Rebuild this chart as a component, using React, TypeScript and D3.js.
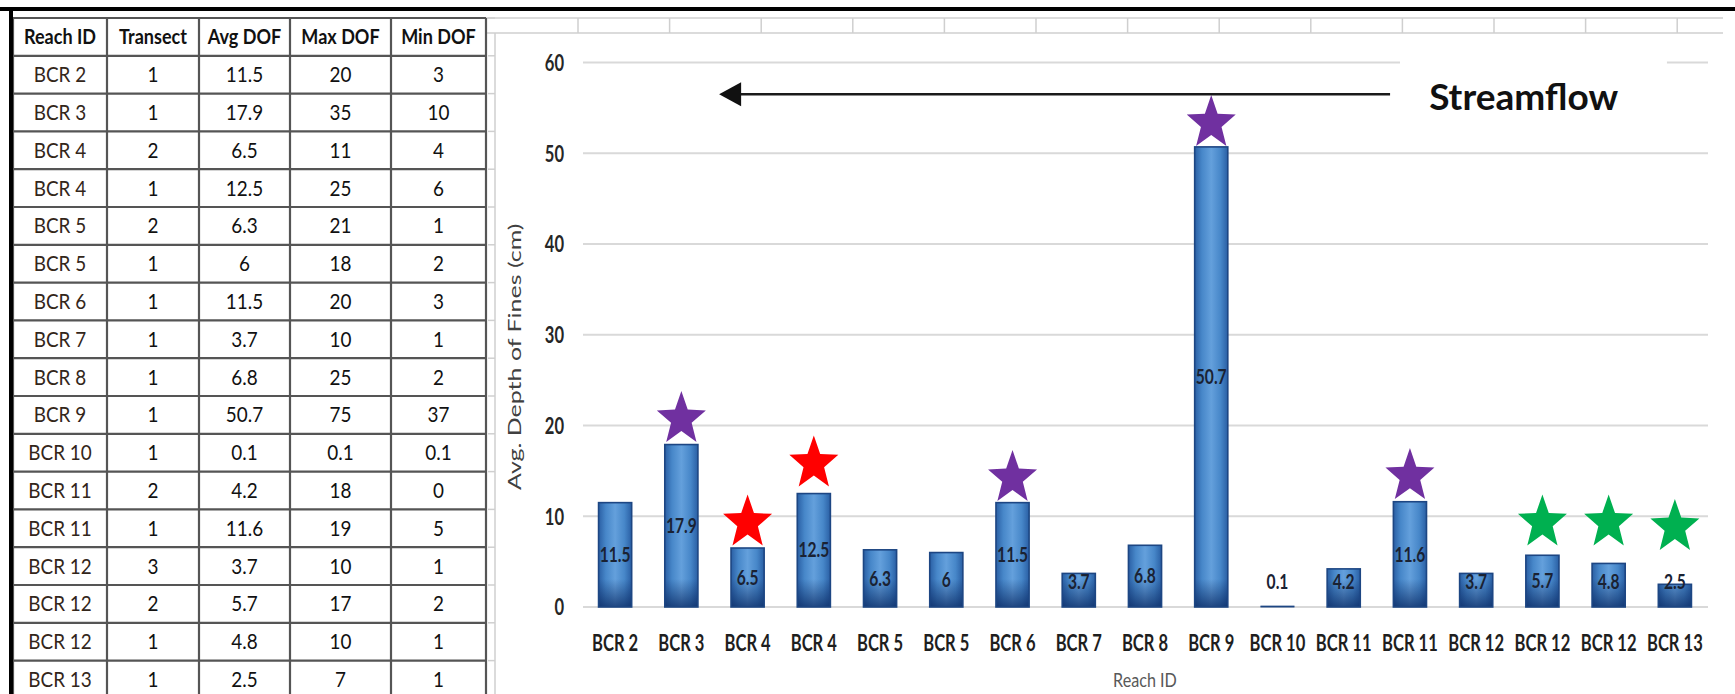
import React from 'react';
import * as d3 from 'd3';

// ---- data ----
const reachIds = ['BCR 2', 'BCR 3', 'BCR 4', 'BCR 4', 'BCR 5', 'BCR 5', 'BCR 6', 'BCR 7', 'BCR 8', 'BCR 9', 'BCR 10', 'BCR 11', 'BCR 11', 'BCR 12', 'BCR 12', 'BCR 12', 'BCR 13'];
const transects = [1, 1, 2, 1, 2, 1, 1, 1, 1, 1, 1, 2, 1, 3, 2, 1, 1];
const avgDof = [11.5, 17.9, 6.5, 12.5, 6.3, 6, 11.5, 3.7, 6.8, 50.7, 0.1, 4.2, 11.6, 3.7, 5.7, 4.8, 2.5];
const maxDof = [20, 35, 11, 25, 21, 18, 20, 10, 25, 75, 0.1, 18, 19, 10, 17, 10, 7];
const minDof = [3, 10, 4, 6, 1, 2, 3, 1, 2, 37, 0.1, 0, 5, 1, 2, 1, 1];
const tableHeaders = ['Reach ID', 'Transect', 'Avg DOF', 'Max DOF', 'Min DOF'];
const yTicks = [0, 10, 20, 30, 40, 50, 60];

// highlighted reaches: bar index, star centre level (cm), marker group
const starReach = [1, 2, 3, 6, 9, 12, 14, 15, 16];
const starLevel = [21.0, 9.6, 16.1, 14.5, 53.6, 14.7, 9.6, 9.6, 9.1];
const starGroup = ['purple', 'red', 'red', 'purple', 'purple', 'purple', 'green', 'green', 'green'];

// streamflow arrow: from / to (category units) at a level in cm
const arrowFrom = 12.2;
const arrowTo = 2.07;
const arrowLevel = 56.5;
const streamflowText = 'Streamflow';
const yTitle = 'Avg. Depth of Fines (cm)';
const xTitle = 'Reach ID';

// ---- layout & style ----
const W = 1735;
const H = 694;
const PLOT = { left: 582, right: 1708, top: 62.5, bottom: 607 };
const TABLE_COLS = [13, 107, 199, 290, 391, 486];
const TABLE_TOP = 18;
const ROW_H = 37.8;
const SHEET_COL0 = 578;
const SHEET_COL_W = 91.6;
const STAR_W = 49;
const STAR_H = 51;
const STAR_COLORS: Record<string, string> = { purple: '#7030a0', red: '#ff0000', green: '#00b050' };
const FONT = 'Lato, "Open Sans", sans-serif';

function starPath(cx: number, cy: number, w: number, h: number, inner = 0.42) {
  const pts: [number, number][] = [];
  for (let k = 0; k < 10; k++) {
    const a = (-90 + k * 36) * Math.PI / 180;
    const r = k % 2 === 0 ? 1 : inner;
    pts.push([Math.cos(a) * r, Math.sin(a) * r]);
  }
  // unit star spans x in [-0.951, 0.951], y in [-1, 0.809]
  const sx = w / (2 * 0.951);
  const sy = h / 1.809;
  const oy = (-1 + 0.809) / 2;
  return 'M' + pts.map(([px, py]) => `${cx + px * sx},${cy + (py - oy) * sy}`).join('L') + 'Z';
}

export default function App() {
  const idx = d3.range(reachIds.length);
  const x = d3.scaleBand<number>().domain(idx).range([PLOT.left, PLOT.right]).paddingInner(0.5).paddingOuter(0.25);
  const y = d3.scaleLinear().domain([0, 60]).range([PLOT.bottom, PLOT.top]);
  const xCat = d3.scaleLinear().domain([0, reachIds.length]).range([PLOT.left, PLOT.right]);
  const bw = x.bandwidth();
  const cx = (i: number) => (x(i) as number) + bw / 2;

  const rows = reachIds.map((r, i) => [r, String(transects[i]), String(avgDof[i]), String(maxDof[i]), String(minDof[i])]);
  const rowY = (k: number) => TABLE_TOP + k * ROW_H;

  const sheetCols = d3.range(13).map((k) => SHEET_COL0 + k * SHEET_COL_W);

  const arrowY = y(arrowLevel);
  const tipX = xCat(arrowTo);
  const tailX = xCat(arrowFrom);

  return (
    <svg width={W} height={H} style={{ position: 'absolute', left: 0, top: 0, display: 'block', background: '#fff' }}>
      <defs>
        <linearGradient id="barH" x1="0" x2="1" y1="0" y2="0">
          <stop offset="0%" stopColor="#2a5fa4" />
          <stop offset="22%" stopColor="#4787c9" />
          <stop offset="50%" stopColor="#64a0dc" />
          <stop offset="78%" stopColor="#4787c9" />
          <stop offset="100%" stopColor="#2a5fa4" />
        </linearGradient>
        <linearGradient id="barShade" gradientUnits="userSpaceOnUse" x1="0" x2="0" y1={y(0) - 28} y2={y(0)}>
          <stop offset="0%" stopColor="#0b2a63" stopOpacity={0} />
          <stop offset="100%" stopColor="#0b2a63" stopOpacity={0.75} />
        </linearGradient>
      </defs>
      <rect x={0} y={0} width={W} height={H} fill="#fff" />

      {/* spreadsheet strip above the chart */}
      <g stroke="#cfcfcf" strokeWidth={1.5}>
        <line x1={486} x2={1723} y1={18} y2={18} />
        <line x1={486} x2={1723} y1={33} y2={33} />
        {sheetCols.map((sx) => <line key={sx} x1={sx} x2={sx} y1={18} y2={33} />)}
        <line x1={495} x2={495} y1={33} y2={H} />
        {d3.range(19).map((k) => <line key={'t' + k} x1={488} x2={495} y1={rowY(k)} y2={rowY(k)} />)}
      </g>

      {/* gridlines */}
      <g stroke="#d9d9d9" strokeWidth={2}>
        {yTicks.map((t) => <line key={t} x1={PLOT.left + 1} x2={PLOT.right} y1={y(t)} y2={y(t)} />)}
      </g>

      {/* bars */}
      <g>
        {avgDof.map((v, i) => {
          const h = y(0) - y(v);
          return (
            <g key={i}>
              <rect x={x(i)} y={y(v)} width={bw} height={h} fill="url(#barH)" />
              <rect x={x(i)} y={y(v)} width={bw} height={h} fill="url(#barShade)" stroke="#1d4683" strokeWidth={Math.min(1.6, h)} />
            </g>
          );
        })}
      </g>

      {/* value labels */}
      <g fontFamily={FONT} fontWeight={700} fontSize={20} fill="#1a2233" textAnchor="middle">
        {avgDof.map((v, i) => {
          const ly = Math.min((y(v) + y(0)) / 2, y(0) - 25);
          return (
            <text key={i} transform={`translate(${cx(i)},${ly}) scale(0.78,1)`} dy="0.36em">{String(v)}</text>
          );
        })}
      </g>

      {/* stars */}
      <g>
        {starReach.map((ri, k) => (
          <path key={k} d={starPath(cx(ri), y(starLevel[k]), STAR_W, STAR_H)} fill={STAR_COLORS[starGroup[k]]} />
        ))}
      </g>

      {/* y tick labels */}
      <g fontFamily={FONT} fontWeight={700} fontSize={23} fill="#262626" textAnchor="end">
        {yTicks.map((t) => (
          <text key={t} transform={`translate(564,${y(t)}) scale(0.72,1)`} dy="0.36em">{t}</text>
        ))}
      </g>

      {/* x tick labels */}
      <g fontFamily={FONT} fontWeight={700} fontSize={23} fill="#1e1e1e" textAnchor="middle">
        {reachIds.map((r, i) => (
          <text key={i} transform={`translate(${cx(i)},643) scale(0.72,1)`} dy="0.36em">{r}</text>
        ))}
      </g>

      {/* axis titles */}
      <text fontFamily={FONT} fontSize={25} fill="#404040" textAnchor="middle"
        transform={`translate(515,${(PLOT.top + PLOT.bottom) / 2 + 22}) scale(0.72,1) rotate(-90)`} dy="0.36em">{yTitle}</text>
      <text fontFamily={FONT} fontSize={19} fill="#595959" textAnchor="middle"
        transform={`translate(${(PLOT.left + PLOT.right) / 2},680) scale(0.85,1)`} dy="0.36em">{xTitle}</text>

      {/* streamflow annotation */}
      <rect x={xCat(12.35)} y={y(61.5)} width={xCat(16.38) - xCat(12.35)} height={y(51.5) - y(61.5)} fill="#fff" />
      <line x1={tailX} x2={tipX + 18} y1={arrowY} y2={arrowY} stroke="#1a1a1a" strokeWidth={2.6} />
      <path d={`M${tipX},${arrowY}L${tipX + 22},${arrowY - 12}L${tipX + 22},${arrowY + 12}Z`} fill="#111" />
      <text x={xCat(12.79)} y={y(56.2)} dy="0.36em" fontFamily={FONT} fontWeight={700} fontSize={37} fill="#111">{streamflowText}</text>

      {/* data table */}
      <g fontFamily={FONT}>
        {tableHeaders.map((h, c) => (
          <text key={h} transform={`translate(${(TABLE_COLS[c] + TABLE_COLS[c + 1]) / 2},${rowY(0.5)}) scale(0.86,1)`}
            dy="0.36em" textAnchor="middle" fontWeight={700} fontSize={21} fill="#111">{h}</text>
        ))}
        {rows.map((row, r) => row.map((cell, c) => (
          <text key={r + '-' + c} transform={`translate(${(TABLE_COLS[c] + TABLE_COLS[c + 1]) / 2},${rowY(r + 1.5)}) scale(0.9,1)`}
            dy="0.36em" textAnchor="middle" fontSize={21} fill={c === 0 ? '#33261a' : '#111'}>{cell}</text>
        )))}
        <g stroke="#555" strokeWidth={2.2}>
          {d3.range(rows.length + 2).map((k) => (
            <line key={'r' + k} x1={TABLE_COLS[0]} x2={TABLE_COLS[5]} y1={rowY(k)} y2={rowY(k)} />
          ))}
          {TABLE_COLS.map((cxx) => (
            <line key={'c' + cxx} x1={cxx} x2={cxx} y1={TABLE_TOP} y2={H} />
          ))}
        </g>
      </g>

      {/* picture frame */}
      <rect x={0} y={7} width={W} height={4} fill="#000" />
      <rect x={9} y={7} width={4} height={H} fill="#000" />
    </svg>
  );
}
